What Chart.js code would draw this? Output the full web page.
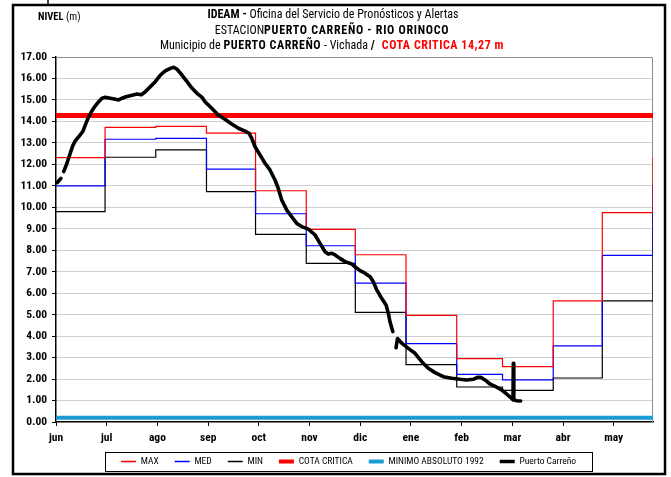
<!DOCTYPE html>
<html>
<head>
<meta charset="utf-8">
<title>Nivel Río Orinoco - Puerto Carreño</title>
<script src="https://cdn.jsdelivr.net/npm/chart.js@4.4.1/dist/chart.umd.min.js"></script>
<style>
  html, body { margin: 0; padding: 0; background: #fff; }
  #wrap { width: 671px; height: 477px; position: relative; }
  canvas { display: block; }
</style>
</head>
<body>
<div id="wrap"><canvas id="chart" width="671" height="477"></canvas></div>
<script>
// Hydrological year, counted in days from 1 June (0) to 31 May (365)
const monthLabels = ['jun', 'jul', 'ago', 'sep', 'oct', 'nov', 'dic', 'ene', 'feb', 'mar', 'abr', 'may'];
const monthTickDays = [0, 31, 62, 93, 124, 155, 186, 217, 248, 279, 310, 341];
const monthStartDays = [0, 30, 61, 92, 122, 153, 183, 214, 245, 273, 304, 334, 365];

// Monthly historical levels (m), one value per month start, repeated for the next June
const maxLevels = [12.31, 13.72, 13.77, 13.45, 10.77, 8.97, 7.79, 4.97, 2.95, 2.58, 5.64, 9.75, 12.31];
const medLevels = [11.00, 13.17, 13.21, 11.78, 9.70, 8.21, 6.47, 3.65, 2.22, 1.96, 3.55, 7.76, 11.00];
const minLevels = [9.80, 12.33, 12.67, 10.73, 8.74, 7.39, 5.11, 2.67, 1.63, 1.47, 2.05, 5.64, 9.80];

// Reference levels (m)
const cotaCritica = 14.27;
const minimoAbsoluto1992 = 0.20;

// Observed levels at Puerto Carreño (null marks a break in the record)
const obsDays = [
  0.8, 3.0, 3.9,
  4.7, 6.7, 8.7, 10.2, 11.8, 14.2, 16.3, 17.9, 19.6, 21.6, 23.7, 26.1, 28.1, 30.1,
  33.2, 36.3, 38.3, 40.4, 42.8, 46.5, 49.5, 52.2, 54.6, 57.7, 60.7, 63.8, 66.8, 69.9,
  72.0, 74.0, 77.0, 80.1, 83.2, 86.2, 89.3, 91.1, 95.2, 99.2, 103.3, 107.4, 111.5,
  115.6, 118.0, 119.7, 121.7, 124.7, 127.8, 130.8, 133.9, 135.9, 138.0, 141.1, 144.1,
  147.2, 150.2, 154.3, 158.4, 161.4, 164.5, 166.5, 168.6, 170.6, 173.6, 176.7, 180.8,
  182.8, 185.9, 188.9, 192.0, 194.0, 196.1, 199.1, 201.8, 203.2, 204.2, 205.9, 207.0,
  207.9, 208.8, 211.4, 215.4, 219.5, 223.6, 227.6, 231.7, 236.8, 241.9, 247.0, 251.1,
  255.1, 257.6, 259.7, 262.3, 265.3, 269.4, 272.5, 275.6, 278.6, 279.4, 279.6, 279.9,
  281.7, 284.1
];
const obsLevels = [
  11.15, 11.35, null,
  11.66, 12.05, 12.52, 12.86, 13.09, 13.32, 13.52, 13.83, 14.15, 14.45, 14.69, 14.92, 15.08, 15.12,
  15.08, 15.03, 15.00, 15.08, 15.15, 15.22, 15.28, 15.24, 15.38, 15.62, 15.85, 16.16, 16.35, 16.47,
  16.52, 16.43, 16.16, 15.85, 15.54, 15.31, 15.12, 14.92, 14.61, 14.30, 14.10, 13.88, 13.68,
  13.55, 13.45, 13.21, 12.82, 12.44, 12.05, 11.74, 11.27, 10.88, 10.34, 9.87, 9.56,
  9.25, 9.10, 8.98, 8.71, 8.32, 7.93, 7.82, 7.86, 7.78, 7.62, 7.47, 7.36,
  7.23, 7.05, 6.93, 6.77, 6.53, 6.15, 5.76, 5.45, 5.06, 4.67, 4.21, null,
  3.46, 3.89, 3.67, 3.43, 3.20, 2.81, 2.50, 2.30, 2.11, 2.04, 1.99, 1.96,
  1.99, 2.08, 2.08, 1.96, 1.77, 1.62, 1.49, 1.30, 1.10, 1.03, 2.73, 1.03,
  0.99, 0.98
];

const yTickValues = [0, 1, 2, 3, 4, 5, 6, 7, 8, 9, 10, 11, 12, 13, 14, 15, 16, 17];

const NARROW = "'Roboto Condensed', 'Open Sans Condensed', 'Liberation Sans', sans-serif";
const PAD_BOTTOM = 0;
const AREA_LEFT = 56;
const AREA_BOTTOM = 422;
const LEGEND_SHIFT = 16;
const LEGEND_CENTRE_Y = 461.5;
const LEGEND_PAD = 16;
const LEGEND_FONT = 9.5;

const toPoints = (xs, ys) => xs.map((x, i) => ({ x, y: ys[i] }));
const flatLine = (v) => [{ x: 0, y: v }, { x: 365, y: v }];

// Three-line heading with mixed weights, unit label, legend box and outer frame
const decorPlugin = {
  id: 'decor',
  beforeDraw(chart) {
    const ctx = chart.ctx;
    ctx.save();
    ctx.fillStyle = '#fff';
    ctx.fillRect(0, 0, chart.width, chart.height);
    ctx.restore();
  },
  afterLayout(chart) {
    // legend row: a little right of the canvas centre, just under the month labels
    const lg = chart.legend;
    if (lg) {
      lg.left += LEGEND_SHIFT;
      lg.right += LEGEND_SHIFT;
      const h = lg.height;
      lg.top = LEGEND_CENTRE_Y - LEGEND_PAD - LEGEND_FONT / 2;
      lg.bottom = lg.top + h;
    }
  },
  beforeDatasetsDraw(chart) {
    // thin grey border on the top and right of the plot area
    const { ctx, chartArea: a } = chart;
    ctx.save();
    ctx.strokeStyle = '#8c8c8c';
    ctx.lineWidth = 1;
    ctx.beginPath();
    ctx.moveTo(a.left, Math.round(a.top) + 0.5);
    ctx.lineTo(Math.round(a.right) - 0.5, Math.round(a.top) + 0.5);
    ctx.lineTo(Math.round(a.right) - 0.5, a.bottom);
    ctx.stroke();
    ctx.restore();
  },
  afterDraw(chart) {
    const ctx = chart.ctx;
    const rich = (segs, cx, y, size, boldSpacing) => {
      const setFont = (s) => {
        ctx.font = (s.b ? 'bold ' : '') + size + 'px ' + NARROW;
        ctx.letterSpacing = s.b ? boldSpacing + 'px' : '0px';
      };
      let total = 0;
      segs.forEach(s => { setFont(s); s.w = ctx.measureText(s.t).width; total += s.w; });
      let x = cx - total / 2;
      segs.forEach(s => {
        setFont(s);
        ctx.fillStyle = s.c || '#000';
        ctx.fillText(s.t, x, y);
        x += s.w;
      });
      ctx.letterSpacing = '0px';
    };
    ctx.save();
    ctx.textBaseline = 'middle';
    ctx.textAlign = 'left';
    rich([{ t: 'IDEAM - ', b: true }, { t: 'Oficina del Servicio de Pronósticos y Alertas' }], 333, 15, 12, 0);
    rich([{ t: 'ESTACION' }, { t: 'PUERTO CARREÑO - RIO ORINOCO', b: true }], 332, 31, 12, 0.7);
    rich([{ t: 'Municipio de ' }, { t: 'PUERTO CARREÑO', b: true }, { t: ' - Vichada ' }, { t: '/  ', b: true },
          { t: 'COTA CRITICA 14,27 m', b: true, c: '#ff0000' }], 332, 46, 12, 0.55);

    ctx.font = 'bold 10.5px ' + NARROW;
    ctx.fillStyle = '#000';
    ctx.fillText('NIVEL', 38, 17);
    const w = ctx.measureText('NIVEL ').width;
    ctx.font = '10.5px ' + NARROW;
    ctx.fillText('(m)', 38 + w, 17);

    // box around the legend entries
    const lg = chart.legend;
    if (lg && lg.legendHitBoxes && lg.legendHitBoxes.length) {
      const hb = lg.legendHitBoxes;
      const first = hb[0], last = hb[hb.length - 1];
      const left = Math.round(first.left - 16) + 0.5;
      const right = Math.round(last.left + last.width + 16) + 0.5;
      ctx.strokeStyle = '#000';
      ctx.lineWidth = 1;
      ctx.strokeRect(left, Math.round(LEGEND_CENTRE_Y - 10) + 0.5, right - left, 19);
    }

    // outer frame
    ctx.strokeStyle = '#000';
    ctx.lineWidth = 2.5;
    ctx.strokeRect(13, 5, 652, 469);
    ctx.lineWidth = 1.5;
    ctx.beginPath();
    ctx.moveTo(48, 0);
    ctx.lineTo(48, 5);
    ctx.stroke();
    ctx.restore();
  }
};

const stepDataset = (label, color, values) => ({
  label,
  data: toPoints(monthStartDays, values),
  borderColor: color,
  backgroundColor: color,
  borderWidth: 1.2,
  stepped: 'before',
  pointRadius: 0,
  fill: false,
  order: 3
});

new Chart(document.getElementById('chart'), {
  type: 'line',
  data: {
    datasets: [
      stepDataset('MAX', '#ff0000', maxLevels),
      stepDataset('MED', '#0000ff', medLevels),
      stepDataset('MIN', '#000000', minLevels),
      {
        label: 'COTA CRITICA',
        data: flatLine(cotaCritica),
        borderColor: '#ff0000',
        backgroundColor: '#ff0000',
        borderWidth: 5,
        pointRadius: 0,
        order: 2
      },
      {
        label: 'MINIMO ABSOLUTO 1992',
        data: flatLine(minimoAbsoluto1992),
        borderColor: '#1a9bd4',
        backgroundColor: '#1a9bd4',
        borderWidth: 4,
        pointRadius: 0,
        order: 2
      },
      {
        label: 'Puerto Carreño',
        data: toPoints(obsDays, obsLevels),
        borderColor: '#000000',
        backgroundColor: '#000000',
        borderWidth: 3.6,
        borderJoinStyle: 'round',
        borderCapStyle: 'round',
        pointRadius: 0,
        spanGaps: false,
        order: 1
      }
    ]
  },
  options: {
    responsive: false,
    animation: false,
    devicePixelRatio: 1,
    layout: { padding: { left: 12, right: 18, top: 57, bottom: PAD_BOTTOM } },
    scales: {
      x: {
        type: 'linear',
        min: 0,
        max: 365,
        afterBuildTicks: (s) => { s.ticks = monthTickDays.map(v => ({ value: v })); },
        afterFit: (s) => {
          const lh = (s.chart.legend && s.chart.legend.height) || 31;
          s.height = s.chart.height - PAD_BOTTOM - lh - AREA_BOTTOM;
        },
        ticks: {
          autoSkip: false,
          maxRotation: 0,
          padding: 5,
          color: '#000',
          font: { family: NARROW, size: 11.5, weight: 'bold' },
          callback: (v) => monthLabels[monthTickDays.indexOf(v)] || ''
        },
        grid: {
          drawOnChartArea: false,
          drawTicks: true,
          tickLength: 4,
          tickColor: '#000',
          tickWidth: 1
        },
        border: { display: true, color: '#000', width: 1.5 }
      },
      y: {
        min: 0,
        max: 17,
        afterBuildTicks: (s) => { s.ticks = yTickValues.map(v => ({ value: v })); },
        afterFit: (s) => { s.width = AREA_LEFT - 12; },
        ticks: {
          padding: 5,
          color: '#000',
          font: { family: NARROW, size: 11.5, weight: 'bold' },
          callback: (v) => Number(v).toFixed(2)
        },
        grid: {
          color: (c) => (c.tick && (c.tick.value === 0 || c.tick.value === 17)) ? 'rgba(0,0,0,0)' : '#9c9c9c',
          lineWidth: 1,
          drawTicks: true,
          tickLength: 4,
          tickColor: '#000',
          tickWidth: 1,
          tickBorderDash: []
        },
        border: { display: true, color: '#000', width: 1.5, dash: [1, 1] }
      }
    },
    plugins: {
      title: { display: false },
      tooltip: { enabled: false },
      legend: {
        position: 'bottom',
        maxHeight: 31,
        onClick: null,
        labels: {
          usePointStyle: true,
          pointStyleWidth: 15,
          boxHeight: LEGEND_FONT,
          padding: LEGEND_PAD,
          color: '#000',
          font: { family: NARROW, size: LEGEND_FONT },
          generateLabels: (chart) => chart.data.datasets.map((ds, i) => ({
            text: ds.label,
            strokeStyle: ds.borderColor,
            fillStyle: ds.borderColor,
            fontColor: '#000',
            lineWidth: Math.min(Math.max(ds.borderWidth, 1.5), 4),
            pointStyle: 'line',
            hidden: false,
            datasetIndex: i
          }))
        }
      }
    }
  },
  plugins: [decorPlugin]
});
</script>
</body>
</html>
